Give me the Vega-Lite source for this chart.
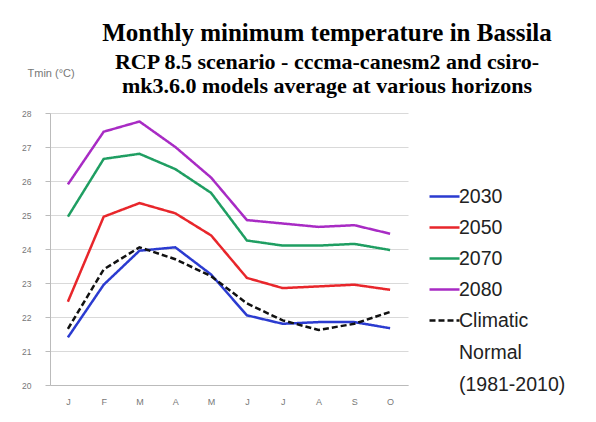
{
  "$schema": "https://vega.github.io/schema/vega-lite/v6.json",
  "width": 358,
  "height": 272,
  "autosize": {"type": "none"},
  "padding": {"left": 50, "top": 113, "right": 188, "bottom": 37},
  "background": "white",
  "title": {
    "text": "Monthly minimum  temperature in Bassila",
    "subtitle": ["RCP 8.5 scenario - cccma-canesm2 and csiro-", "mk3.6.0 models average at various horizons"],
    "anchor": "middle",
    "dx": 98,
    "offset": -30,
    "font": "Liberation Serif",
    "fontSize": 25,
    "fontWeight": "bold",
    "color": "black",
    "subtitleFont": "Liberation Serif",
    "subtitleFontSize": 22,
    "subtitleFontWeight": "bold",
    "subtitleColor": "black",
    "subtitleLineHeight": 24,
    "subtitlePadding": 6
  },
  "data": {
    "values": [
      {"month": "Jan", "series": "2030", "value": 21.4},
      {"month": "Feb", "series": "2030", "value": 22.95},
      {"month": "Mar", "series": "2030", "value": 23.95},
      {"month": "Apr", "series": "2030", "value": 24.05},
      {"month": "May", "series": "2030", "value": 23.25},
      {"month": "Jun", "series": "2030", "value": 22.05},
      {"month": "Jul", "series": "2030", "value": 21.8},
      {"month": "Aug", "series": "2030", "value": 21.85},
      {"month": "Sep", "series": "2030", "value": 21.85},
      {"month": "Oct", "series": "2030", "value": 21.67},
      {"month": "Jan", "series": "2050", "value": 22.45},
      {"month": "Feb", "series": "2050", "value": 24.95},
      {"month": "Mar", "series": "2050", "value": 25.35},
      {"month": "Apr", "series": "2050", "value": 25.05},
      {"month": "May", "series": "2050", "value": 24.4},
      {"month": "Jun", "series": "2050", "value": 23.15},
      {"month": "Jul", "series": "2050", "value": 22.85},
      {"month": "Aug", "series": "2050", "value": 22.9},
      {"month": "Sep", "series": "2050", "value": 22.95},
      {"month": "Oct", "series": "2050", "value": 22.8},
      {"month": "Jan", "series": "2070", "value": 24.95},
      {"month": "Feb", "series": "2070", "value": 26.65},
      {"month": "Mar", "series": "2070", "value": 26.8},
      {"month": "Apr", "series": "2070", "value": 26.35},
      {"month": "May", "series": "2070", "value": 25.65},
      {"month": "Jun", "series": "2070", "value": 24.25},
      {"month": "Jul", "series": "2070", "value": 24.1},
      {"month": "Aug", "series": "2070", "value": 24.1},
      {"month": "Sep", "series": "2070", "value": 24.15},
      {"month": "Oct", "series": "2070", "value": 23.97},
      {"month": "Jan", "series": "2080", "value": 25.9},
      {"month": "Feb", "series": "2080", "value": 27.45},
      {"month": "Mar", "series": "2080", "value": 27.75},
      {"month": "Apr", "series": "2080", "value": 27.0},
      {"month": "May", "series": "2080", "value": 26.1},
      {"month": "Jun", "series": "2080", "value": 24.85},
      {"month": "Jul", "series": "2080", "value": 24.75},
      {"month": "Aug", "series": "2080", "value": 24.65},
      {"month": "Sep", "series": "2080", "value": 24.7},
      {"month": "Oct", "series": "2080", "value": 24.45},
      {"month": "Jan", "series": "Climatic Normal (1981-2010)", "value": 21.65},
      {"month": "Feb", "series": "Climatic Normal (1981-2010)", "value": 23.4},
      {"month": "Mar", "series": "Climatic Normal (1981-2010)", "value": 24.05},
      {"month": "Apr", "series": "Climatic Normal (1981-2010)", "value": 23.7},
      {"month": "May", "series": "Climatic Normal (1981-2010)", "value": 23.2},
      {"month": "Jun", "series": "Climatic Normal (1981-2010)", "value": 22.4},
      {"month": "Jul", "series": "Climatic Normal (1981-2010)", "value": 21.9},
      {"month": "Aug", "series": "Climatic Normal (1981-2010)", "value": 21.62},
      {"month": "Sep", "series": "Climatic Normal (1981-2010)", "value": 21.8},
      {"month": "Oct", "series": "Climatic Normal (1981-2010)", "value": 22.15}
    ]
  },
  "mark": {"type": "line", "strokeWidth": 2.5},
  "encoding": {
    "x": {
      "field": "month",
      "type": "ordinal",
      "sort": ["Jan", "Feb", "Mar", "Apr", "May", "Jun", "Jul", "Aug", "Sep", "Oct"],
      "scale": {"type": "point", "padding": 0.5},
      "axis": {
        "title": null,
        "labelAngle": 0,
        "labelExpr": "substring(datum.label, 0, 1)",
        "labelFont": "Liberation Sans",
        "labelFontSize": 9,
        "labelColor": "#777777",
        "labelPadding": 12,
        "ticks": false,
        "domainColor": "#bbbbbb",
        "grid": false
      }
    },
    "y": {
      "field": "value",
      "type": "quantitative",
      "scale": {"domain": [20, 28], "nice": false, "zero": false},
      "axis": {
        "values": [20, 21, 22, 23, 24, 25, 26, 27, 28],
        "title": "Tmin (°C)",
        "titleAngle": 0,
        "titleAlign": "left",
        "titleBaseline": "middle",
        "titleX": -23,
        "titleY": -40,
        "titleFont": "Liberation Sans",
        "titleFontSize": 11,
        "titleFontWeight": "normal",
        "titleColor": "#777777",
        "labelFont": "Liberation Sans",
        "labelFontSize": 8.5,
        "labelColor": "#777777",
        "labelPadding": 14,
        "tickSize": 5,
        "tickColor": "#bbbbbb",
        "domainColor": "#bbbbbb",
        "gridColor": "#d9d9d9"
      }
    },
    "color": {
      "field": "series",
      "type": "nominal",
      "scale": {
        "domain": ["2030", "2050", "2070", "2080", "Climatic Normal (1981-2010)"],
        "range": ["#2b3bd0", "#e8262b", "#1f9e62", "#a82bc4", "#111111"]
      },
      "legend": {
        "title": null,
        "orient": "none",
        "legendX": 378,
        "legendY": 67,
        "symbolType": "stroke",
        "symbolSize": 900,
        "symbolStrokeWidth": 2.5,
        "labelFont": "Liberation Sans",
        "labelFontSize": 19.5,
        "labelColor": "#222222",
        "labelLimit": 200,
        "labelOffset": -2,
        "rowPadding": 5,
        "labelExpr": "datum.label == 'Climatic Normal (1981-2010)' ? ['Climatic', 'Normal', '(1981-2010)'] : datum.label"
      }
    },
    "strokeDash": {
      "field": "series",
      "type": "nominal",
      "scale": {
        "domain": ["2030", "2050", "2070", "2080", "Climatic Normal (1981-2010)"],
        "range": [[1, 0], [1, 0], [1, 0], [1, 0], [6, 3]]
      },
      "legend": null
    }
  },
  "config": {
    "view": {"stroke": null},
    "legend": {"symbolDash": null},
    "style": {"guide-label": {"lineHeight": 32}}
  }
}
